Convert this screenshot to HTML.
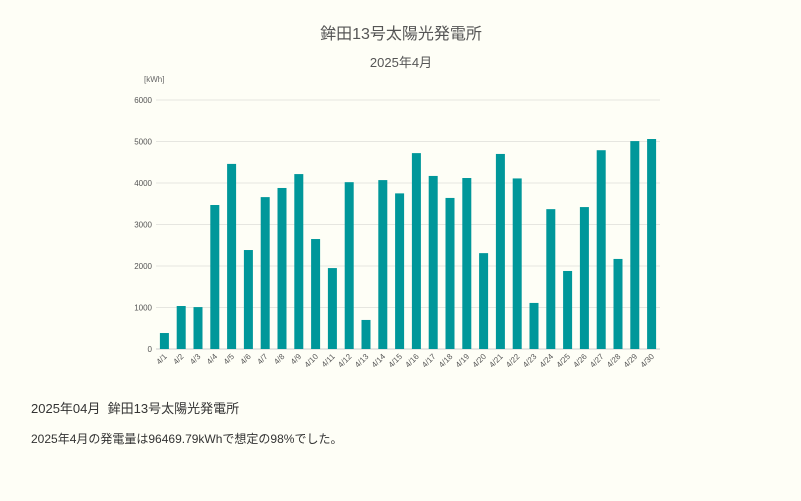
<!DOCTYPE html>
<html><head><meta charset="utf-8">
<style>
body{margin:0;background:#fefef6;font-family:"Liberation Sans","Noto Sans CJK JP",sans-serif;}
#wrap{position:relative;width:801px;height:501px;overflow:hidden;background:#fefef6;}
.t{position:absolute;color:#333;}
</style></head><body>
<div id="wrap">
<svg id="chart" width="801" height="390" style="position:absolute;left:0;top:0">
<text x="401" y="39" text-anchor="middle" font-size="16" fill="#555">鉾田13号太陽光発電所</text>
<text x="401" y="67" text-anchor="middle" font-size="13" fill="#555">2025年4月</text>
<text x="144" y="82" font-size="8" fill="#666">[kWh]</text>
<g id="grid"></g><g id="bars"></g><g id="xl"></g>
</svg>
<div class="t" style="left:31px;top:398px;font-size:13px">2025年04月&nbsp;&nbsp;鉾田13号太陽光発電所</div>
<div class="t" style="left:31px;top:430px;font-size:12px">2025年4月の発電量は96469.79kWhで想定の98%でした。</div>
</div>
<script>
const categories=["4/1","4/2","4/3","4/4","4/5","4/6","4/7","4/8","4/9","4/10","4/11","4/12","4/13","4/14","4/15","4/16","4/17","4/18","4/19","4/20","4/21","4/22","4/23","4/24","4/25","4/26","4/27","4/28","4/29","4/30"];
const values=[385,1036,1010,3470,4460,2385,3660,3880,4215,2650,1950,4020,700,4070,3750,4720,4170,3640,4120,2310,4700,4110,1110,3370,1880,3420,4790,2170,5010,5060];
const yTicks=[0,1000,2000,3000,4000,5000,6000];
const ns="http://www.w3.org/2000/svg";
const x0=156,x1=660,yB=349,yT=100,yMax=6000;
const step=(x1-x0)/categories.length;
const xS=i=>x0+step*(i+0.5);
const yS=v=>yB-(v/yMax)*(yB-yT);
const g=document.getElementById('grid'),b=document.getElementById('bars'),xl=document.getElementById('xl');
yTicks.forEach(t=>{
 const l=document.createElementNS(ns,'line');
 
 
 l.setAttribute('x1',x0);l.setAttribute('x2',x1);l.setAttribute('y1',yS(t));l.setAttribute('y2',yS(t));
 l.setAttribute('stroke',t===0?'#ccc':'#e6e6e0');l.setAttribute('stroke-width','1');g.appendChild(l);
 const tx=document.createElementNS(ns,'text');
 
 
 tx.setAttribute('x',152);tx.setAttribute('y',yS(t)+3);tx.setAttribute('text-anchor','end');
 tx.setAttribute('font-size','8');tx.setAttribute('fill','#555');tx.textContent=t;g.appendChild(tx);
});
values.forEach((v,i)=>{
 const r=document.createElementNS(ns,'rect');
 
 
 const w=9;r.setAttribute('x',xS(i)-w/2);r.setAttribute('y',yS(v));r.setAttribute('width',w);r.setAttribute('height',yB-yS(v));
 r.setAttribute('fill','#00979a');b.appendChild(r);
 const tx=document.createElementNS(ns,'text');
 
 
 const X=xS(i)+3,Y=yB+8;
 tx.setAttribute('x',X);tx.setAttribute('y',Y);tx.setAttribute('text-anchor','end');
 tx.setAttribute('transform','rotate(-45 '+X+' '+Y+')');
 tx.setAttribute('font-size','8');tx.setAttribute('fill','#555');tx.textContent=categories[i];xl.appendChild(tx);
});
</script>
</body></html>
